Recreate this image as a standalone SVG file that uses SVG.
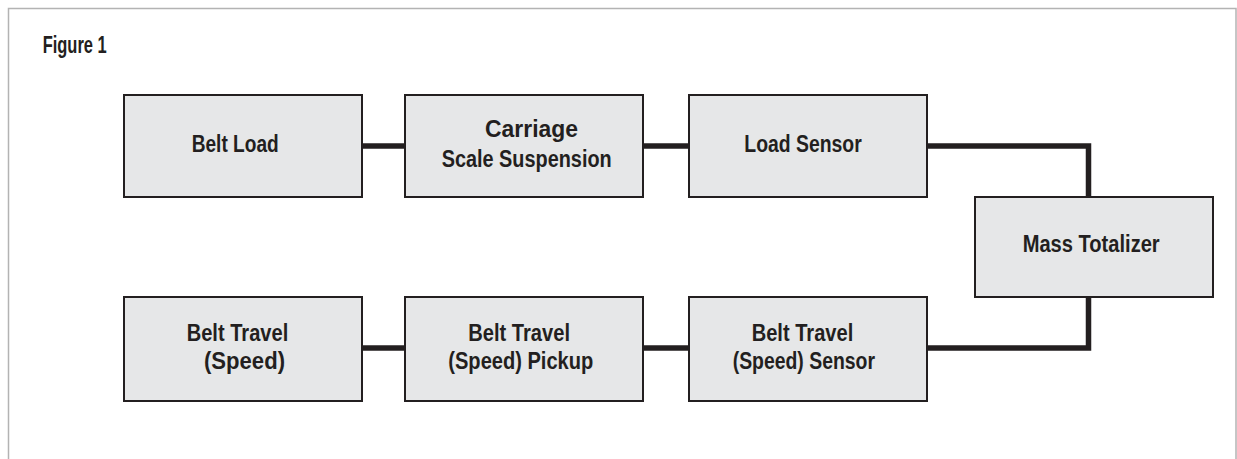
<svg xmlns="http://www.w3.org/2000/svg" width="1237" height="459" viewBox="0 0 1237 459">
<style>
.box{fill:#e6e7e8;stroke:#231f20;stroke-width:2}
.t{font-family:"Liberation Sans Narrow","Liberation Sans",Arial,sans-serif;font-weight:bold;font-size:23px;fill:#231f20}
.c{fill:none;stroke:#231f20;stroke-width:5.5;stroke-linejoin:miter;stroke-linecap:butt}
</style>
<rect x="0" y="0" width="1237" height="459" fill="#ffffff"/>
<rect x="8.5" y="8.5" width="1227.5" height="470" fill="none" stroke="#b3b3b3" stroke-width="1.5"/>
<text class="t" x="42.7" y="53.3" font-size="21" textLength="64" lengthAdjust="spacingAndGlyphs">Figure 1</text>
<g id="connectors">
<line class="c" x1="362" y1="146" x2="405" y2="146"/>
<line class="c" x1="643" y1="146" x2="689" y2="146"/>
<path class="c" d="M927 146 H1088.5 V197"/>
<path class="c" d="M1088.5 297 V348 H927"/>
<line class="c" x1="362" y1="348" x2="405" y2="348"/>
<line class="c" x1="643" y1="348" x2="689" y2="348"/>
</g>
<g id="belt-load">
<rect class="box" x="124" y="95" width="238" height="102"/>
<text class="t" x="191.7" y="151.7" textLength="87" lengthAdjust="spacingAndGlyphs">Belt Load</text>
</g>
<g id="carriage">
<rect class="box" x="405" y="95" width="238" height="102"/>
<text class="t" x="485" y="136.7" textLength="93" lengthAdjust="spacingAndGlyphs">Carriage</text>
<text class="t" x="441.7" y="166.7" textLength="170" lengthAdjust="spacingAndGlyphs">Scale  Suspension</text>
</g>
<g id="load-sensor">
<rect class="box" x="689" y="95" width="238" height="102"/>
<text class="t" x="744.3" y="152.2" textLength="117.4" lengthAdjust="spacingAndGlyphs">Load Sensor</text>
</g>
<g id="mass-totalizer">
<rect class="box" x="975" y="197" width="238" height="100"/>
<text class="t" x="1022.7" y="251.7" textLength="137" lengthAdjust="spacingAndGlyphs">Mass Totalizer</text>
</g>
<g id="belt-travel">
<rect class="box" x="124" y="297" width="238" height="104"/>
<text class="t" x="186.7" y="340.7" textLength="101.6" lengthAdjust="spacingAndGlyphs">Belt Travel</text>
<text class="t" x="204" y="369.3" textLength="81" lengthAdjust="spacingAndGlyphs">(Speed)</text>
</g>
<g id="belt-travel-pickup">
<rect class="box" x="405" y="297" width="238" height="104"/>
<text class="t" x="468.3" y="340.7" textLength="101.7" lengthAdjust="spacingAndGlyphs">Belt Travel</text>
<text class="t" x="448.3" y="369.3" textLength="145" lengthAdjust="spacingAndGlyphs">(Speed) Pickup</text>
</g>
<g id="belt-travel-sensor">
<rect class="box" x="689" y="297" width="238" height="104"/>
<text class="t" x="751.7" y="340.7" textLength="101.6" lengthAdjust="spacingAndGlyphs">Belt Travel</text>
<text class="t" x="732.7" y="369.3" textLength="142.3" lengthAdjust="spacingAndGlyphs">(Speed) Sensor</text>
</g>
</svg>
